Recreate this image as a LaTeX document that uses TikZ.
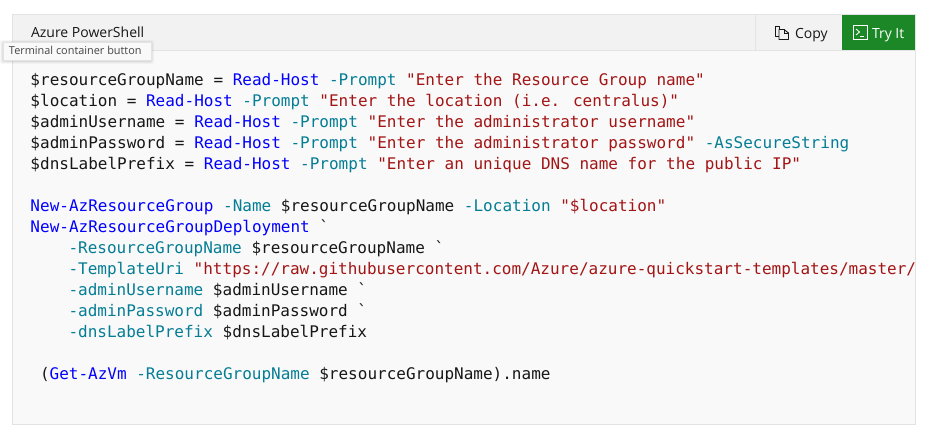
\documentclass[tikz,border=0pt]{standalone}
\usepackage{fontspec}
\setmainfont{Open Sans}
\newfontfamily\codefont{DejaVu Sans Mono}
\definecolor{kwblue}{HTML}{0101FD}
\definecolor{parteal}{HTML}{047D95}
\definecolor{strred}{HTML}{A31515}
\definecolor{inktext}{HTML}{171717}
\definecolor{panelbg}{HTML}{F9F9F9}
\definecolor{headbg}{HTML}{F2F2F2}
\definecolor{edgegray}{HTML}{E3E3E3}
\definecolor{trygreen}{HTML}{1C8727}
\newcommand{\kw}[1]{\textcolor{kwblue}{#1}}
\newcommand{\pa}[1]{\textcolor{parteal}{#1}}
\newcommand{\sr}[1]{\textcolor{strred}{#1}}
\tikzset{
  code/.style={anchor=base west,inner sep=0pt,outer sep=0pt,text=inktext,font=\codefont\fontsize{16}{16}\selectfont},
  uilabel/.style={anchor=base west,inner sep=0pt,outer sep=0pt,text=inktext,font=\fontsize{14}{16}\selectfont},
}
\begin{document}
\begin{tikzpicture}[x=1pt,y=-1pt]
\useasboundingbox (0,0) rectangle (929,435);
\fill[white] (0,0) rectangle (929,435);
\draw[edgegray,fill=panelbg,line width=1pt] (12.5,14.5) rectangle (915.5,424.5);
\draw[edgegray,fill=headbg,line width=1pt] (12.5,14.5) rectangle (915.5,50.5);
\draw[edgegray,line width=1pt] (755.5,14.5) -- (755.5,50.5);
\fill[trygreen] (842,15) rectangle (915,50);
\node[uilabel] (title) at (31,38) {Azure PowerShell};
% copy icon
\draw[inktext,line width=0.9pt,line join=round] (779,30) -- (779,26.5) -- (775,26.5) -- (775,36.5) -- (779,36.5);
\draw[inktext,line width=0.9pt,line join=round,fill=headbg] (779,29.5) -- (784,29.5) -- (788.5,33) -- (788.5,39.5) -- (779,39.5) -- cycle;
\draw[inktext,line width=0.7pt] (784,29.5) -- (784,33) -- (788.5,33);
\node[uilabel] (copy) at (795,39) {Copy};
% terminal icon
\draw[white,line width=1pt] (853.5,25.5) rectangle (867.5,39.5);
\draw[white,line width=0.9pt] (856,29) -- (859.5,32) -- (856,35);
\draw[white,line width=0.9pt] (860,36.5) -- (864,36.5);
\node[uilabel,text=white] (tryit) at (872,39) {Try It};
% code
\node[code] (l1) at (30.5,85.5) {\$resourceGroupName = \kw{Read-Host} \pa{-Prompt} \sr{"Enter the Resource Group name"}};
\node[code] (l2) at (30.5,106.5) {\$location = \kw{Read-Host} \pa{-Prompt} \sr{"Enter the location (i.e. centralus)"}};
\node[code] (l3) at (30.5,127.5) {\$adminUsername = \kw{Read-Host} \pa{-Prompt} \sr{"Enter the administrator username"}};
\node[code] (l4) at (30.5,148.5) {\$adminPassword = \kw{Read-Host} \pa{-Prompt} \sr{"Enter the administrator password"} \pa{-AsSecureString}};
\node[code] (l5) at (30.5,169.5) {\$dnsLabelPrefix = \kw{Read-Host} \pa{-Prompt} \sr{"Enter an unique DNS name for the public IP"}};
\node[code] (l6) at (30.5,211.5) {\kw{New-AzResourceGroup} \pa{-Name} \$resourceGroupName \pa{-Location} \sr{"\$location"}};
\node[code] (l7) at (30.5,232.5) {\kw{New-AzResourceGroupDeployment} `};
\node[code] (l8) at (68.5,253.5) {\pa{-ResourceGroupName} \$resourceGroupName `};
\node[code] (l9) at (68.5,274.5) {\pa{-TemplateUri} \sr{"https://raw.githubusercontent.com/Azure/azure-quickstart-templates/master/}};
\node[code] (l10) at (68.5,295.5) {\pa{-adminUsername} \$adminUsername `};
\node[code] (l11) at (68.5,316.5) {\pa{-adminPassword} \$adminPassword `};
\node[code] (l12) at (68.5,337.5) {\pa{-dnsLabelPrefix} \$dnsLabelPrefix};
\node[code] (l13) at (40,379.5) {(\kw{Get-AzVm} \pa{-ResourceGroupName} \$resourceGroupName).name};
% tooltip with soft shadow
\foreach \g/\o in {3/0.03,2/0.04,1/0.05}{
  \fill[black,opacity=\o,rounded corners=2pt] (3-\g,42-\g+1) rectangle (151+\g,60+\g+1);
}
\fill[panelbg] (3,42) rectangle (151,60);
\draw[edgegray,line width=0.5pt] (3,42) rectangle (151,60);
\node[uilabel,font=\fontsize{10.9}{13}\selectfont,text=inktext!80!white] (tip) at (9,55) {Terminal container button};
\end{tikzpicture}
\end{document}
